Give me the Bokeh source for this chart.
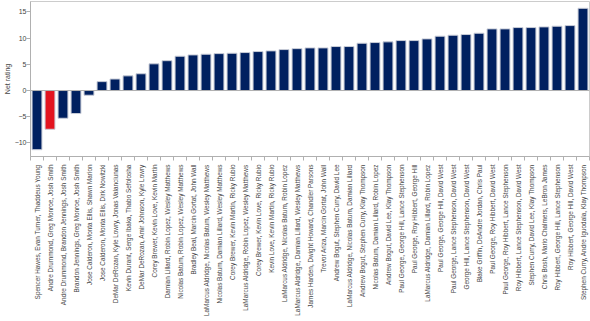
import math
from bokeh.plotting import figure
from bokeh.models import FixedTicker, Span, ColumnDataSource
from bokeh.embed import file_html
from bokeh.resources import INLINE

lineups = [
    "Spencer Hawes, Evan Turner, Thaddeus Young",
    "Andre Drummond, Greg Monroe, Josh Smith",
    "Andre Drummond, Brandon Jennings, Josh Smith",
    "Brandon Jennings, Greg Monroe, Josh Smith",
    "Jose Calderon, Monta Ellis, Shawn Marion",
    "Jose Calderon, Monta Ellis, Dirk Nowitzki",
    "DeMar DeRozan, Kyle Lowry, Jonas Valanciunas",
    "Kevin Durant, Serge Ibaka, Thabo Sefolosha",
    "DeMar DeRozan, Amir Johnson, Kyle Lowry",
    "Corey Brewer, Kevin Love, Kevin Martin",
    "Damian Lillard, Robin Lopez, Wesley Matthews",
    "Nicolas Batum, Robin Lopez, Wesley Matthews",
    "Bradley Beal, Marcin Gortat, John Wall",
    "LaMarcus Aldridge, Nicolas Batum, Wesley Matthews",
    "Nicolas Batum, Damian Lillard, Wesley Matthews",
    "Corey Brewer, Kevin Martin, Ricky Rubio",
    "LaMarcus Aldridge, Robin Lopez, Wesley Matthews",
    "Corey Brewer, Kevin Love, Ricky Rubio",
    "Kevin Love, Kevin Martin, Ricky Rubio",
    "LaMarcus Aldridge, Nicolas Batum, Robin Lopez",
    "LaMarcus Aldridge, Damian Lillard, Wesley Matthews",
    "James Harden, Dwight Howard, Chandler Parsons",
    "Trevor Ariza, Marcin Gortat, John Wall",
    "Andrew Bogut, Stephen Curry, David Lee",
    "LaMarcus Aldridge, Nicolas Batum, Damian Lillard",
    "Andrew Bogut, Stephen Curry, Klay Thompson",
    "Nicolas Batum, Damian Lillard, Robin Lopez",
    "Andrew Bogut, David Lee, Klay Thompson",
    "Paul George, George Hill, Lance Stephenson",
    "Paul George, Roy Hibbert, George Hill",
    "LaMarcus Aldridge, Damian Lillard, Robin Lopez",
    "Paul George, George Hill, David West",
    "Paul George, Lance Stephenson, David West",
    "George Hill, Lance Stephenson, David West",
    "Blake Griffin, DeAndre Jordan, Chris Paul",
    "Paul George, Roy Hibbert, David West",
    "Paul George, Roy Hibbert, Lance Stephenson",
    "Roy Hibbert, Lance Stephenson, David West",
    "Stephen Curry, David Lee, Klay Thompson",
    "Chris Bosh, Mario Chalmers, LeBron James",
    "Roy Hibbert, George Hill, Lance Stephenson",
    "Roy Hibbert, George Hill, David West",
    "Stephen Curry, Andre Iguodala, Klay Thompson",
]

net_rating = [
    -11.3, -7.4, -5.3, -4.4, -0.9, 1.7, 2.2, 2.8, 3.2, 5.1,
    5.7, 6.55, 6.8, 6.93, 7.05, 7.12, 7.25, 7.44, 7.57, 7.82,
    8.0, 8.14, 8.14, 8.4, 8.4, 9.03, 9.16, 9.29, 9.54, 9.54,
    9.86, 10.37, 10.56, 10.69, 10.94, 11.77, 11.77, 12.02, 12.02, 12.15,
    12.28, 12.4, 15.7,
]

highlight = "Andre Drummond, Greg Monroe, Josh Smith"
y_ticks = [-10, -5, 0, 5, 10, 15]

NAVY = "#002060"
RED = "#E3141F"
TEXT = "#444444"

n = len(lineups)
xs = list(range(1, n + 1))
colors = [RED if name == highlight else NAVY for name in lineups]
src = ColumnDataSource(dict(x=xs, top=net_rating, name=lineups, color=colors))

p = figure(width=590, height=321, output_backend="svg", toolbar_location=None,
           title=None,
           x_range=(0.5, n + 0.5), y_range=(-12.6, 17.0),
           min_border_left=20, min_border_right=1, min_border_top=1, min_border_bottom=165)

p.vbar(x="x", top="top", bottom=0, width=0.76, source=src,
       fill_color="color", line_color="#c9cdd8", line_width=1)

p.add_layout(Span(location=0, dimension="width", line_color="#b0b0b0", line_width=1))

p.xgrid.visible = False
p.ygrid.visible = False
p.outline_line_color = "#cccccc"
p.background_fill_color = "white"
p.border_fill_color = "white"

xa = p.xaxis[0]
xa.ticker = FixedTicker(ticks=xs, minor_ticks=[i + 0.5 for i in range(0, n + 1)])
xa.major_label_overrides = {x: name for x, name in zip(xs, lineups)}
xa.major_label_orientation = math.pi / 2
xa.major_tick_out = 0
xa.major_tick_in = 0
xa.minor_tick_out = 4
xa.minor_tick_in = 0
xa.minor_tick_line_color = "#b0b0b0"
xa.axis_line_color = "#b0b0b0"
xa.major_label_standoff = 4
xa.major_label_text_font = "Liberation Sans"
xa.major_label_text_font_size = "6.4px"
xa.major_label_text_color = TEXT

ya = p.yaxis[0]
ya.ticker = FixedTicker(ticks=y_ticks)
ya.minor_tick_out = 0
ya.minor_tick_in = 0
ya.major_tick_in = 0
ya.major_tick_out = 4
ya.major_tick_line_color = "#b0b0b0"
ya.axis_line_color = "#b0b0b0"
ya.major_label_standoff = 0
ya.major_label_text_font = "Liberation Sans"
ya.major_label_text_font_size = "7px"
ya.major_label_text_color = TEXT
ya.axis_label = "Net rating"
ya.axis_label_text_font = "Liberation Sans"
ya.axis_label_text_font_size = "7px"
ya.axis_label_text_font_style = "normal"
ya.axis_label_text_color = TEXT
ya.axis_label_standoff = 1

open("out.html", "w").write(file_html(p, INLINE))
